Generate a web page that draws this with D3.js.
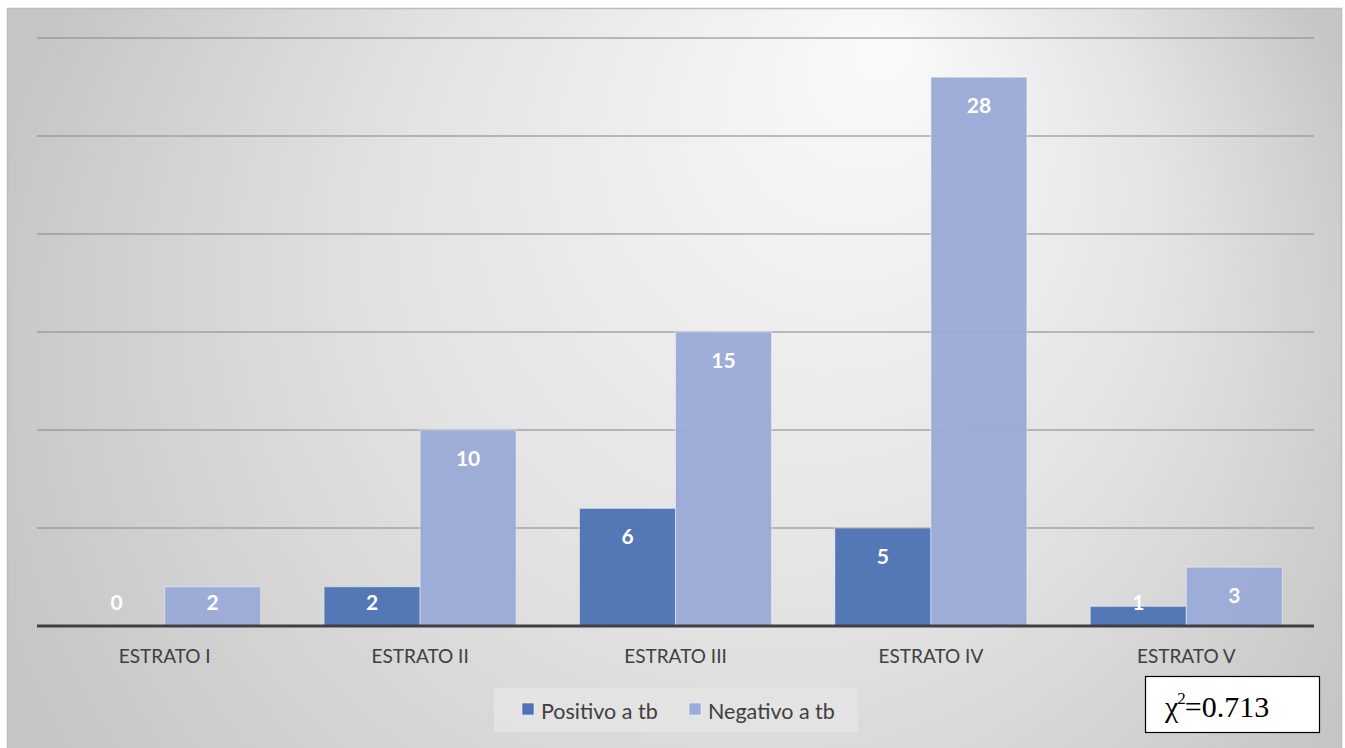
<!DOCTYPE html>
<html>
<head>
<meta charset="utf-8">
<script src="https://cdn.jsdelivr.net/npm/d3@7/dist/d3.min.js"></script>
<style>
  html, body { margin: 0; padding: 0; background: #ffffff; }
  svg { display: block; }
</style>
</head>
<body>
<svg id="chart" width="1345" height="748"></svg>
<script>
// Categories, series and counts per stratum
const categories = ["ESTRATO I", "ESTRATO II", "ESTRATO III", "ESTRATO IV", "ESTRATO V"];
const seriesNames = ["Positivo a tb", "Negativo a tb"];
const positivo = [0, 2, 6, 5, 1];
const negativo = [2, 10, 15, 28, 3];
const yTicks = [0, 5, 10, 15, 20, 25, 30];
const chiLabel = "0.713";

const colors = { "Positivo a tb": "#4e72b3", "Negativo a tb": "#9aabd7" };

const rows = categories.map((c, i) => ({
  category: c,
  values: [
    { series: seriesNames[0], value: positivo[i] },
    { series: seriesNames[1], value: negativo[i] }
  ]
}));

const svg = d3.select("#chart");

// Background gradient of the chart area
const defs = svg.append("defs");
const grad = defs.append("radialGradient")
  .attr("id", "bg")
  .attr("gradientUnits", "userSpaceOnUse")
  .attr("cx", 690).attr("cy", 380).attr("r", 720)
  .attr("fx", 890).attr("fy", 40);
grad.append("stop").attr("offset", "0").attr("stop-color", "#fafafa");
grad.append("stop").attr("offset", "0.55").attr("stop-color", "#e2e2e2");
grad.append("stop").attr("offset", "1").attr("stop-color", "#c6c6c6");

svg.append("rect")
  .attr("x", 7.5).attr("y", 8.5).attr("width", 1334).attr("height", 745)
  .attr("fill", "url(#bg)")
  .attr("stroke", "#bdbdbd").attr("stroke-width", 1.5);

const plot = { left: 37, right: 1314, top: 38, bottom: 626 };

const y = d3.scaleLinear().domain([0, 30]).range([plot.bottom, plot.top]);
const x0 = d3.scaleBand().domain(categories).range([plot.left, plot.right]).padding(0);
const x1 = d3.scaleBand().domain(seriesNames).range([0, x0.bandwidth()])
  .paddingInner(0).paddingOuter(0.33);

// Horizontal gridlines
svg.append("g")
  .selectAll("line")
  .data(yTicks.filter(t => t > 0))
  .join("line")
  .attr("x1", plot.left).attr("x2", plot.right)
  .attr("y1", d => y(d)).attr("y2", d => y(d))
  .attr("stroke", "#8c8c8c").attr("stroke-opacity", 0.55)
  .attr("stroke-width", 2);

// Bars
const groups = svg.append("g")
  .selectAll("g")
  .data(rows)
  .join("g")
  .attr("transform", d => `translate(${x0(d.category)},0)`);

groups.selectAll("rect")
  .data(d => d.values)
  .join("rect")
  .attr("x", d => x1(d.series))
  .attr("width", x1.bandwidth())
  .attr("y", d => y(d.value))
  .attr("height", d => y(0) - y(d.value))
  .attr("fill", d => colors[d.series])
  .attr("fill-opacity", 0.96)
  .attr("stroke", "#ffffff").attr("stroke-opacity", 0.45).attr("stroke-width", 1);

// Value labels inside the bar ends
groups.selectAll("text")
  .data(d => d.values)
  .join("text")
  .attr("x", d => x1(d.series) + x1.bandwidth() / 2)
  .attr("y", d => Math.min(y(d.value) + 27, plot.bottom - 25))
  .attr("text-anchor", "middle")
  .attr("dominant-baseline", "central")
  .attr("font-family", "Lato, 'Open Sans', sans-serif")
  .attr("font-weight", "bold")
  .attr("font-size", 21)
  .attr("fill", "#ffffff")
  .text(d => d.value);

// Baseline axis
svg.append("line")
  .attr("x1", plot.left).attr("x2", plot.right)
  .attr("y1", y(0)).attr("y2", y(0))
  .attr("stroke", "#404040").attr("stroke-width", 3);

// Category axis labels
const xAxis = d3.axisBottom(x0).tickSize(0).tickPadding(0);
const gx = svg.append("g")
  .attr("transform", `translate(0,${plot.bottom + 24})`)
  .call(xAxis);
gx.select(".domain").remove();
gx.selectAll("text")
  .attr("font-family", "Lato, 'Open Sans', sans-serif")
  .attr("font-size", 19)
  .attr("fill", "#404040")
  .attr("dy", "0.7em");

// Legend
const legend = svg.append("g");
legend.append("rect")
  .attr("x", 494).attr("y", 688).attr("width", 364).attr("height", 44)
  .attr("fill", "#e4e4e4").attr("fill-opacity", 0.85);
const legendItems = [
  { name: seriesNames[0], sx: 522, tx: 541 },
  { name: seriesNames[1], sx: 689, tx: 708 }
];
legend.selectAll("rect.sw")
  .data(legendItems)
  .join("rect")
  .attr("class", "sw")
  .attr("x", d => d.sx).attr("y", 703).attr("width", 12).attr("height", 12)
  .attr("fill", d => colors[d.name])
  .attr("stroke", "#ffffff").attr("stroke-opacity", 0.5).attr("stroke-width", 1);
legend.selectAll("text")
  .data(legendItems)
  .join("text")
  .attr("x", d => d.tx).attr("y", 711)
  .attr("dominant-baseline", "central")
  .attr("font-family", "Lato, 'Open Sans', sans-serif")
  .attr("font-size", 21.5)
  .attr("fill", "#404040")
  .text(d => d.name);

// Chi-square annotation box
svg.append("rect")
  .attr("x", 1145.5).attr("y", 676.5).attr("width", 174).attr("height", 56)
  .attr("fill", "#ffffff").attr("stroke", "#000000").attr("stroke-width", 1.2);
const chi = svg.append("text")
  .attr("x", 1165).attr("y", 717)
  .attr("font-family", "'Liberation Serif', 'Times New Roman', serif")
  .attr("font-size", 30)
  .attr("fill", "#000000");
chi.append("tspan").text("\u03C7");
chi.append("tspan").attr("font-size", 17).attr("dy", -13).attr("dx", -1).text("2");
chi.append("tspan").attr("dy", 13).attr("dx", -1).text("=" + chiLabel);
</script>
</body>
</html>
